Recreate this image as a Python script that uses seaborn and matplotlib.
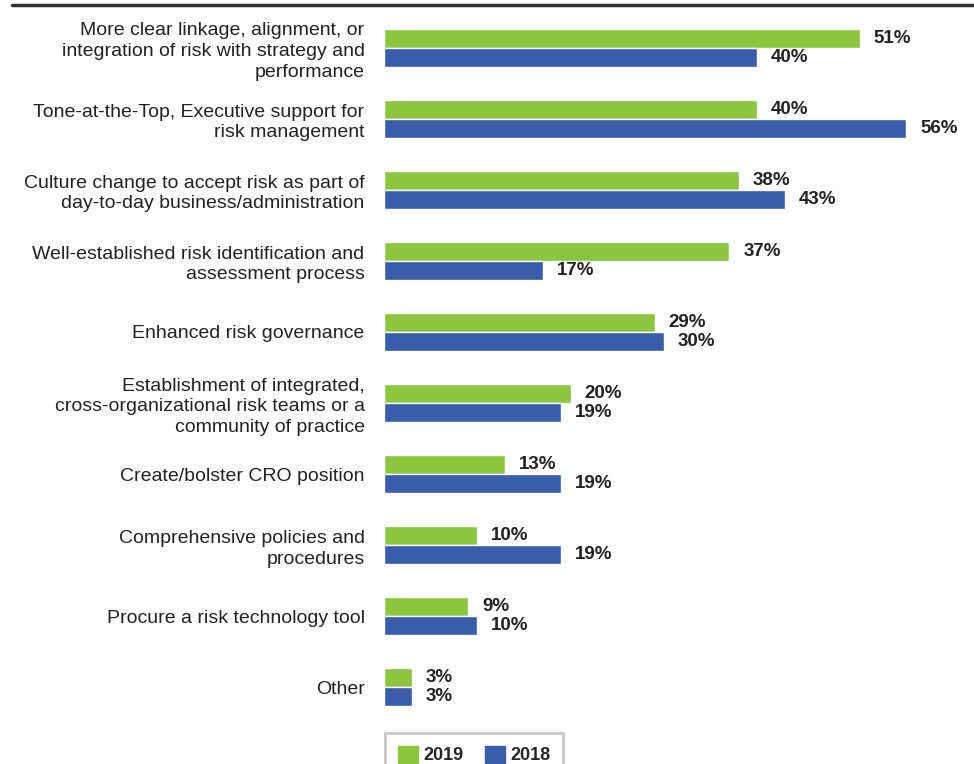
import matplotlib
matplotlib.use("Agg")
import matplotlib.pyplot as plt
from matplotlib.lines import Line2D
import pandas as pd
import seaborn as sns

categories = [
    "More clear linkage, alignment, or\nintegration of risk with strategy and\nperformance",
    "Tone-at-the-Top, Executive support for\nrisk management",
    "Culture change to accept risk as part of\nday-to-day business/administration",
    "Well-established risk identification and\nassessment process",
    "Enhanced risk governance",
    "Establishment of integrated,\ncross-organizational risk teams or a\ncommunity of practice",
    "Create/bolster CRO position",
    "Comprehensive policies and\nprocedures",
    "Procure a risk technology tool",
    "Other",
]
values_2019 = [51, 40, 38, 37, 29, 20, 13, 10, 9, 3]
values_2018 = [40, 56, 43, 17, 30, 19, 19, 19, 10, 3]
years = ["2019", "2018"]
colors = {"2019": "#8CC63E", "2018": "#3A5DAB"}

df = pd.DataFrame({
    "category": categories * 2,
    "year": ["2019"] * len(categories) + ["2018"] * len(categories),
    "value": values_2019 + values_2018,
})

sns.set_style("white")
plt.rcParams["font.family"] = ["Liberation Sans", "DejaVu Sans"]

fig = plt.figure(figsize=(9.74, 7.64), dpi=100)
ax = fig.add_axes([0.3943, 0.054, 0.5977, 0.93])

sns.barplot(data=df, y="category", x="value", hue="year", hue_order=years,
            palette=colors, order=categories, width=0.535, orient="h",
            saturation=1, ax=ax, legend=False)

# percent labels at bar ends
for cont in ax.containers:
    ax.bar_label(cont, labels=[f"{int(v)}%" for v in cont.datavalues],
                 padding=10, fontsize=13.5, fontweight="bold", color="#222222")

ax.set_xlim(0, 62.4)
ax.set_ylim(9.5, -0.5)
ax.set_xlabel("")
ax.set_ylabel("")
ax.set_xticks([])
ax.tick_params(axis="y", length=0, pad=14, labelsize=14, labelcolor="#222222")
for lab in ax.get_yticklabels():
    lab.set_linespacing(1.27)
for s in ax.spines.values():
    s.set_visible(False)

# rule at the top
fig.add_artist(Line2D([0.012, 1.0], [0.993, 0.993], color="#333333", lw=2.5,
                      transform=fig.transFigure))

handles = [plt.Rectangle((0, 0), 1, 1, color=colors[y]) for y in years]
leg = fig.legend(handles, years, loc="upper left",
                 bbox_to_anchor=(0.3953, 0.0406), ncol=2, frameon=True,
                 fancybox=False, edgecolor="#BBBBBB", handlelength=1.1,
                 handleheight=1.1, handletextpad=0.3, columnspacing=1.2,
                 borderpad=0.7, borderaxespad=0,
                 prop={"weight": "bold", "size": 13})
leg.get_frame().set_linewidth(2)

fig.savefig("out.png", dpi=100)
